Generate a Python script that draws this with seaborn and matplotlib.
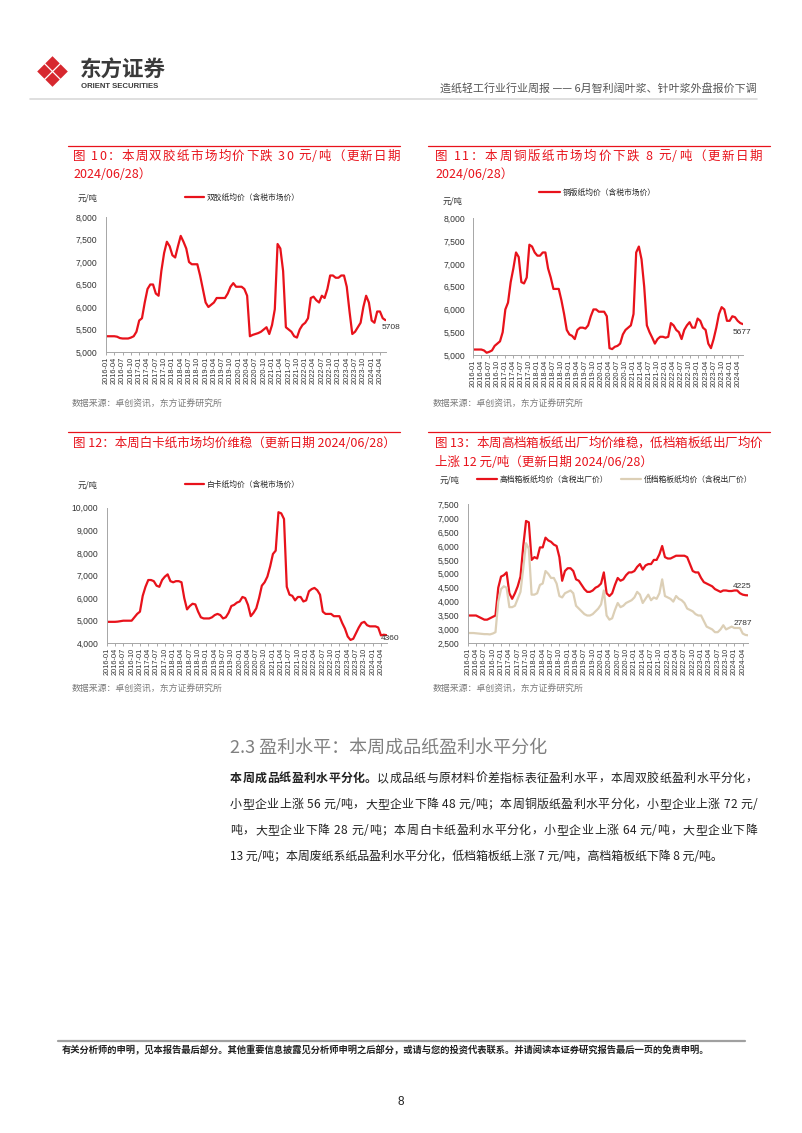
import numpy as np
import pandas as pd
import matplotlib
matplotlib.use("Agg")
import matplotlib.pyplot as plt
import seaborn as sns
from matplotlib.patches import Polygon
from matplotlib.lines import Line2D
from matplotlib.ticker import FuncFormatter

# ---------------- data (monthly, 2016-01 .. 2024-06) ----------------
months = [str(p) for p in pd.period_range("2016-01", "2024-06", freq="M")]
tick_labels = months[::3]

woodfree = [5350, 5350, 5350, 5350, 5340, 5310, 5300, 5300, 5300, 5320, 5350, 5450,
            5700, 5750, 6100, 6400, 6500, 6500, 6300, 6250, 6800, 7200, 7450, 7350,
            7150, 7100, 7350, 7580, 7450, 7300, 7000, 6950, 6950, 6950, 6700, 6400,
            6100, 6000, 6050, 6100, 6200, 6200, 6200, 6200, 6300, 6450, 6530, 6450,
            6450, 6450, 6400, 6250, 5350, 5380, 5400, 5420, 5450, 5500, 5550, 5400,
            5600, 5950, 7400, 7300, 6800, 5550, 5500, 5450, 5350, 5320, 5500, 5600,
            5650, 5750, 6200, 6230, 6150, 6100, 6250, 6200, 6400, 6700, 6700, 6650,
            6650, 6700, 6700, 6450, 5900, 5400, 5450, 5550, 5650, 6000, 6250, 6100,
            5700, 5650, 5900, 5900, 5750, 5708]
coated = [5120, 5120, 5120, 5120, 5100, 5050, 5070, 5100, 5200, 5250, 5300, 5500,
          6000, 6150, 6600, 6900, 7250, 7150, 6600, 6570, 6700, 7420, 7380, 7250,
          7180, 7180, 7250, 7250, 6900, 6700, 6450, 6450, 6450, 6200, 5900, 5550,
          5450, 5420, 5350, 5550, 5600, 5600, 5580, 5650, 5850, 6000, 6000, 5950,
          5950, 5950, 5850, 5150, 5130, 5180, 5200, 5250, 5450, 5550, 5600, 5650,
          5900, 7250, 7380, 7100, 6500, 5650, 5500, 5380, 5250, 5350, 5400, 5400,
          5380, 5400, 5700, 5650, 5550, 5500, 5350, 5550, 5650, 5720, 5600, 5600,
          5800, 5750, 5600, 5550, 5250, 5150, 5350, 5600, 5900, 6050, 6000, 5750,
          5750, 5850, 5830, 5750, 5700, 5677]
ivory = [4950, 4950, 4950, 4950, 4960, 4980, 5000, 5000, 5000, 5000, 5150, 5300,
         5400, 6100, 6500, 6800, 6800, 6750, 6550, 6500, 6800, 6950, 7050, 6750,
         6700, 6750, 6750, 6700, 6000, 5500, 5650, 5750, 5720, 5400, 5150, 5100,
         5100, 5100, 5150, 5250, 5300, 5250, 5100, 5150, 5350, 5650, 5700, 5800,
         5850, 6050, 6000, 5700, 5200, 5350, 5550, 6000, 6550, 6700, 6950, 7400,
         7950, 8100, 9800, 9750, 9500, 6500, 6150, 6100, 5900, 6050, 6050, 5850,
         5900, 6300, 6400, 6450, 6350, 6150, 5400, 5300, 5300, 5300, 5200, 5200,
         5200, 4900, 4650, 4300, 4150, 4200, 4450, 4700, 4900, 4950, 4800, 4750,
         4750, 4750, 4700, 4350, 4380, 4360]
kraft_high = [3500, 3500, 3500, 3500, 3450, 3400, 3350, 3350, 3400, 3450, 3500, 4500,
              4900, 4950, 5050, 4300, 4100, 4300, 4550, 4900, 6000, 6900, 6850, 5500,
              5600, 5550, 5950, 5950, 6300, 6200, 6150, 6050, 6000, 5600, 4750, 5100,
              5200, 5200, 5100, 4800, 4750, 4600, 4450, 4350, 4350, 4400, 4500, 4550,
              4650, 5050, 4300, 4200, 4300, 4600, 4850, 4750, 4800, 4950, 5050, 5050,
              5100, 5250, 5350, 5150, 5300, 5350, 5350, 5500, 5500, 5700, 6000, 5600,
              5550, 5550, 5600, 5650, 5650, 5650, 5650, 5600, 5350, 5100, 5050, 5050,
              4850, 4700, 4650, 4600, 4550, 4450, 4400, 4350, 4400, 4400, 4380, 4380,
              4400, 4400, 4300, 4250, 4230, 4225]
kraft_low = [2870, 2870, 2870, 2860, 2850, 2840, 2830, 2830, 2820, 2850, 2900, 4000,
             4450, 4550, 4500, 3800, 3800, 3850, 4100, 4350, 5200, 6100, 5900, 4250,
             4250, 4300, 4600, 4650, 5100, 5000, 4850, 4850, 4650, 4200, 4150, 4300,
             4350, 4400, 4300, 3850, 3750, 3650, 3550, 3500, 3500, 3550, 3650, 3750,
             3900, 4400, 3500, 3350, 3400, 3700, 3950, 3800, 3850, 3950, 4000, 4050,
             4150, 4350, 4250, 3950, 4100, 4250, 4050, 4150, 4100, 4300, 4800, 4200,
             4150, 4100, 4000, 4200, 4100, 4050, 3950, 3750, 3700, 3650, 3550, 3500,
             3500, 3300, 3100, 3050, 3000, 2900, 2900, 3000, 3150, 3000, 3050, 3100,
             3050, 3050, 3050, 2850, 2800, 2787]

name_woodfree = "双胶纸均价（含税市场价）"
name_coated = "铜版纸均价（含税市场价）"
name_ivory = "白卡纸均价（含税市场价）"
name_high = "高档箱板纸均价（含税出厂价）"
name_low = "低档箱板纸均价（含税出厂价）"

RED = "#e8121b"
BEIGE = "#dccfb6"
W, H = 802, 1133

sns.set_theme(style="white")
plt.rcParams["font.family"] = ["Liberation Sans", "Noto Sans CJK SC"]
plt.rcParams["axes.unicode_minus"] = False

fig = plt.figure(figsize=(W / 100, H / 100), dpi=100)
fig.patch.set_facecolor("white")
renderer = fig.canvas.get_renderer()


def fx(x):
    return x / W


def fy(y):
    return 1 - y / H


def text_w(s, **kw):
    t = fig.text(0, 0, s, **kw)
    w = t.get_window_extent(renderer=renderer).width
    t.remove()
    return w


def justified(x0, x1, y_base, segments, **common):
    chars = []
    for s, kw in segments:
        k = dict(common)
        k.update(kw)
        for ch in s:
            chars.append((ch, k))
    widths = []
    for ch, k in chars:
        if ch == " ":
            widths.append(text_w("a a", **k) - text_w("aa", **k))
        else:
            widths.append(text_w(ch, **k))
    gap = (x1 - x0 - sum(widths)) / max(len(chars) - 1, 1)
    x = x0
    for (ch, k), w in zip(chars, widths):
        if ch != " ":
            fig.text(fx(x), fy(y_base), ch, ha="left", va="baseline", **k)
        x += w + gap


def seq_text(x0, y_base, segments, **common):
    x = x0
    for s, kw in segments:
        k = dict(common)
        k.update(kw)
        t = fig.text(fx(x), fy(y_base), s, ha="left", va="baseline", **k)
        x += t.get_window_extent(renderer=renderer).width


def make_axes(l, r, t, b):
    return fig.add_axes([fx(l), fy(b), (r - l) / W, (b - t) / H])


def style_axes(ax, ylo, yhi, step):
    ax.set_xlim(0, len(months) - 1)
    ax.set_ylim(ylo, yhi)
    ax.set_yticks(np.arange(ylo, yhi + 1, step))
    ax.yaxis.set_major_formatter(FuncFormatter(lambda v, p: f"{int(v):,}"))
    ax.set_xticks(range(0, len(months), 3))
    ax.set_xticklabels(tick_labels, rotation=90, fontsize=5.3, color="#333333")
    ax.tick_params(axis="y", labelsize=6.2, colors="#333333", length=0, pad=6)
    ax.tick_params(axis="x", length=2, width=0.6, color="#9a9a9a", pad=1.5,
                   direction="out", bottom=True)
    for side in ["top", "right"]:
        ax.spines[side].set_visible(False)
    for side in ["left", "bottom"]:
        ax.spines[side].set_color("#a6a6a6")
        ax.spines[side].set_linewidth(0.7)
    ax.set_xlabel("")
    ax.set_ylabel("")
    ax.patch.set_alpha(0)


LEGPROP = {"family": ["Noto Sans CJK SC"], "size": 5.6}
idx = list(range(len(months)))

# ---------------- header ----------------
cx, cy, d, g = 52.5, 71.5, 7.2, 0.9
for ox, oy in [(0, -1), (0, 1), (-1, 0), (1, 0)]:
    px, py = cx + ox * (d + g), cy + oy * (d + g)
    pts = [(fx(px), fy(py - d)), (fx(px + d), fy(py)), (fx(px), fy(py + d)), (fx(px - d), fy(py))]
    fig.patches.append(Polygon(pts, closed=True, transform=fig.transFigure,
                               facecolor="#d7282f", edgecolor="none", joinstyle="round"))
fig.text(fx(80), fy(70), "东方证券", fontsize=15.5, fontweight="bold", color="#3a3a3a",
         family=["Noto Sans CJK SC"], ha="left", va="center")
fig.text(fx(81), fy(86.5), "ORIENT SECURITIES", fontsize=5.6, fontweight="bold",
         color="#3a3a3a", ha="left", va="center")
fig.text(fx(757), fy(88), "造纸轻工行业行业周报 —— 6月智利阔叶浆、针叶浆外盘报价下调",
         fontsize=7.9, color="#555555", family=["Noto Sans CJK SC"], ha="right", va="center")
fig.lines.append(Line2D([fx(30), fx(757)], [fy(98.5), fy(98.5)], transform=fig.transFigure,
                        color="#d9d9d9", linewidth=1.2))

# ---------------- chart titles ----------------
TFONT = dict(fontsize=9, color=RED, family=["Noto Sans CJK SC"], fontweight="medium")
for (x0, x1, y) in [(68, 400, 145.5), (428, 770, 145.5), (68, 400, 431.5), (428, 770, 431.5)]:
    fig.lines.append(Line2D([fx(x0), fx(x1)], [fy(y), fy(y)], transform=fig.transFigure,
                            color=RED, linewidth=0.9))
justified(73, 400, 160, [("图 10：本周双胶纸市场均价下跌 30 元/吨（更新日期", {})], **TFONT)
fig.text(fx(73), fy(178), "2024/06/28）", ha="left", va="baseline", **TFONT)
justified(435, 762, 160, [("图 11：本周铜版纸市场均价下跌 8 元/吨（更新日期", {})], **TFONT)
fig.text(fx(435), fy(178), "2024/06/28）", ha="left", va="baseline", **TFONT)
fig.text(fx(73), fy(447), "图 12：本周白卡纸市场均价维稳（更新日期 2024/06/28）",
         ha="left", va="baseline", **TFONT)
justified(435, 762, 447, [("图 13：本周高档箱板纸出厂均价维稳，低档箱板纸出厂均价", {})], **TFONT)
fig.text(fx(435), fy(466), "上涨 12 元/吨（更新日期 2024/06/28）", ha="left", va="baseline", **TFONT)

UNIT = dict(fontsize=6, color="#333333", family=["Noto Sans CJK SC"], ha="left", va="center")
SRC = dict(fontsize=6.4, color="#7a7a7a", family=["Noto Sans CJK SC"], ha="left", va="center")

# ---------------- chart 1 ----------------
ax1 = make_axes(106, 385.5, 217, 352)
df1 = pd.DataFrame({"idx": idx, "val": woodfree, "series": name_woodfree})
sns.lineplot(data=df1, x="idx", y="val", hue="series", palette={name_woodfree: RED},
             linewidth=1.6, ax=ax1)
style_axes(ax1, 5000, 8000, 500)
ax1.legend(loc="center left", bbox_to_anchor=(fx(185), fy(198)), bbox_transform=fig.transFigure,
           frameon=False, borderpad=0, borderaxespad=0, handlelength=2.4, handletextpad=0.35,
           prop=LEGPROP)
ax1.annotate(f"{woodfree[-1]}", xy=(idx[-1], woodfree[-1]), xytext=(-4, -7),
             textcoords="offset pixels", ha="left", va="center", fontsize=6, color="#333333")
fig.text(fx(78), fy(198), "元/吨", **UNIT)
fig.text(fx(72), fy(404), "数据来源：卓创资讯，东方证券研究所", **SRC)

# ---------------- chart 2 ----------------
ax2 = make_axes(473.3, 743, 218.3, 355)
df2 = pd.DataFrame({"idx": idx, "val": coated, "series": name_coated})
sns.lineplot(data=df2, x="idx", y="val", hue="series", palette={name_coated: RED},
             linewidth=1.6, ax=ax2)
style_axes(ax2, 5000, 8000, 500)
ax2.legend(loc="center left", bbox_to_anchor=(fx(539), fy(193)), bbox_transform=fig.transFigure,
           frameon=False, borderpad=0, borderaxespad=0, handlelength=2.7, handletextpad=0.35,
           prop=LEGPROP)
ax2.annotate(f"{coated[-1]}", xy=(idx[-1], coated[-1]), xytext=(-10, -8),
             textcoords="offset pixels", ha="left", va="center", fontsize=6, color="#333333")
fig.text(fx(443), fy(201), "元/吨", **UNIT)
fig.text(fx(433), fy(404), "数据来源：卓创资讯，东方证券研究所", **SRC)

# ---------------- chart 3 ----------------
ax3 = make_axes(106.7, 386.5, 507.7, 643.3)
df3 = pd.DataFrame({"idx": idx, "val": ivory, "series": name_ivory})
sns.lineplot(data=df3, x="idx", y="val", hue="series", palette={name_ivory: RED},
             linewidth=1.6, ax=ax3)
style_axes(ax3, 4000, 10000, 1000)
ax3.legend(loc="center left", bbox_to_anchor=(fx(185), fy(485)), bbox_transform=fig.transFigure,
           frameon=False, borderpad=0, borderaxespad=0, handlelength=2.4, handletextpad=0.35,
           prop=LEGPROP)
ax3.annotate(f"{ivory[-1]}", xy=(idx[-1], ivory[-1]), xytext=(-6, -3),
             textcoords="offset pixels", ha="left", va="center", fontsize=6, color="#333333")
fig.text(fx(78), fy(485), "元/吨", **UNIT)
fig.text(fx(72), fy(689), "数据来源：卓创资讯，东方证券研究所", **SRC)

# ---------------- chart 4 ----------------
ax4 = make_axes(467.7, 748.3, 504.3, 643.3)
df4 = pd.DataFrame({"idx": idx * 2, "val": kraft_high + kraft_low,
                    "series": [name_high] * len(idx) + [name_low] * len(idx)})
sns.lineplot(data=df4, x="idx", y="val", hue="series", hue_order=[name_high, name_low],
             palette={name_high: RED, name_low: BEIGE}, linewidth=1.6, ax=ax4)
for ln in ax4.get_lines():
    if ln.get_label() == name_high:
        ln.set_zorder(3)
style_axes(ax4, 2500, 7500, 500)
ax4.legend(loc="center left", bbox_to_anchor=(fx(477), fy(480)), bbox_transform=fig.transFigure,
           frameon=False, borderpad=0, borderaxespad=0, handlelength=2.6, handletextpad=0.35,
           ncol=2, columnspacing=1.6, prop=LEGPROP)
ax4.annotate(f"{kraft_high[-1]}", xy=(idx[-1], kraft_high[-1]), xytext=(-15, 9),
             textcoords="offset pixels", ha="left", va="center", fontsize=6, color="#333333")
ax4.annotate(f"{kraft_low[-1]}", xy=(idx[-1], kraft_low[-1]), xytext=(-15, 12),
             textcoords="offset pixels", ha="left", va="center", fontsize=6, color="#333333")
fig.text(fx(440), fy(480), "元/吨", **UNIT)
fig.text(fx(433), fy(689), "数据来源：卓创资讯，东方证券研究所", **SRC)

# ---------------- section text ----------------
fig.text(fx(230), fy(748), "2.3 盈利水平：本周成品纸盈利水平分化", fontsize=13,
         color="#808080", family=["Noto Sans CJK SC"], fontweight="light",
         ha="left", va="center")
BODY = dict(fontsize=8.6, color="#222222", family=["Noto Sans CJK SC"])
justified(230, 757, 782, [("本周成品纸盈利水平分化。", {"fontweight": "bold"}),
                          ("以成品纸与原材料价差指标表征盈利水平，本周双胶纸盈利水平分化，", {})], **BODY)
justified(230, 757, 808, [("小型企业上涨 56 元/吨，大型企业下降 48 元/吨；本周铜版纸盈利水平分化，小型企业上涨 72 元/", {})], **BODY)
justified(230, 757, 834, [("吨，大型企业下降 28 元/吨；本周白卡纸盈利水平分化，小型企业上涨 64 元/吨，大型企业下降", {})], **BODY)
seq_text(230, 860, [("13 元/吨；本周废纸系纸品盈利水平分化，低档箱板纸上涨 7 元/吨，高档箱板纸下降 8 元/吨。", {})], **BODY)

# ---------------- footer ----------------
fig.lines.append(Line2D([fx(58), fx(745)], [fy(1041), fy(1041)], transform=fig.transFigure,
                        color="#a0a0a0", linewidth=1.6))
fig.text(fx(62), fy(1050), "有关分析师的申明，见本报告最后部分。其他重要信息披露见分析师申明之后部分，或请与您的投资代表联系。并请阅读本证券研究报告最后一页的免责申明。",
         fontsize=6.7, fontweight="bold", color="#222222", family=["Noto Sans CJK SC"],
         ha="left", va="center")
fig.text(fx(401), fy(1102), "8", fontsize=8.5, color="#222222", ha="center", va="center")

fig.savefig("out.png", dpi=100, facecolor="white")
